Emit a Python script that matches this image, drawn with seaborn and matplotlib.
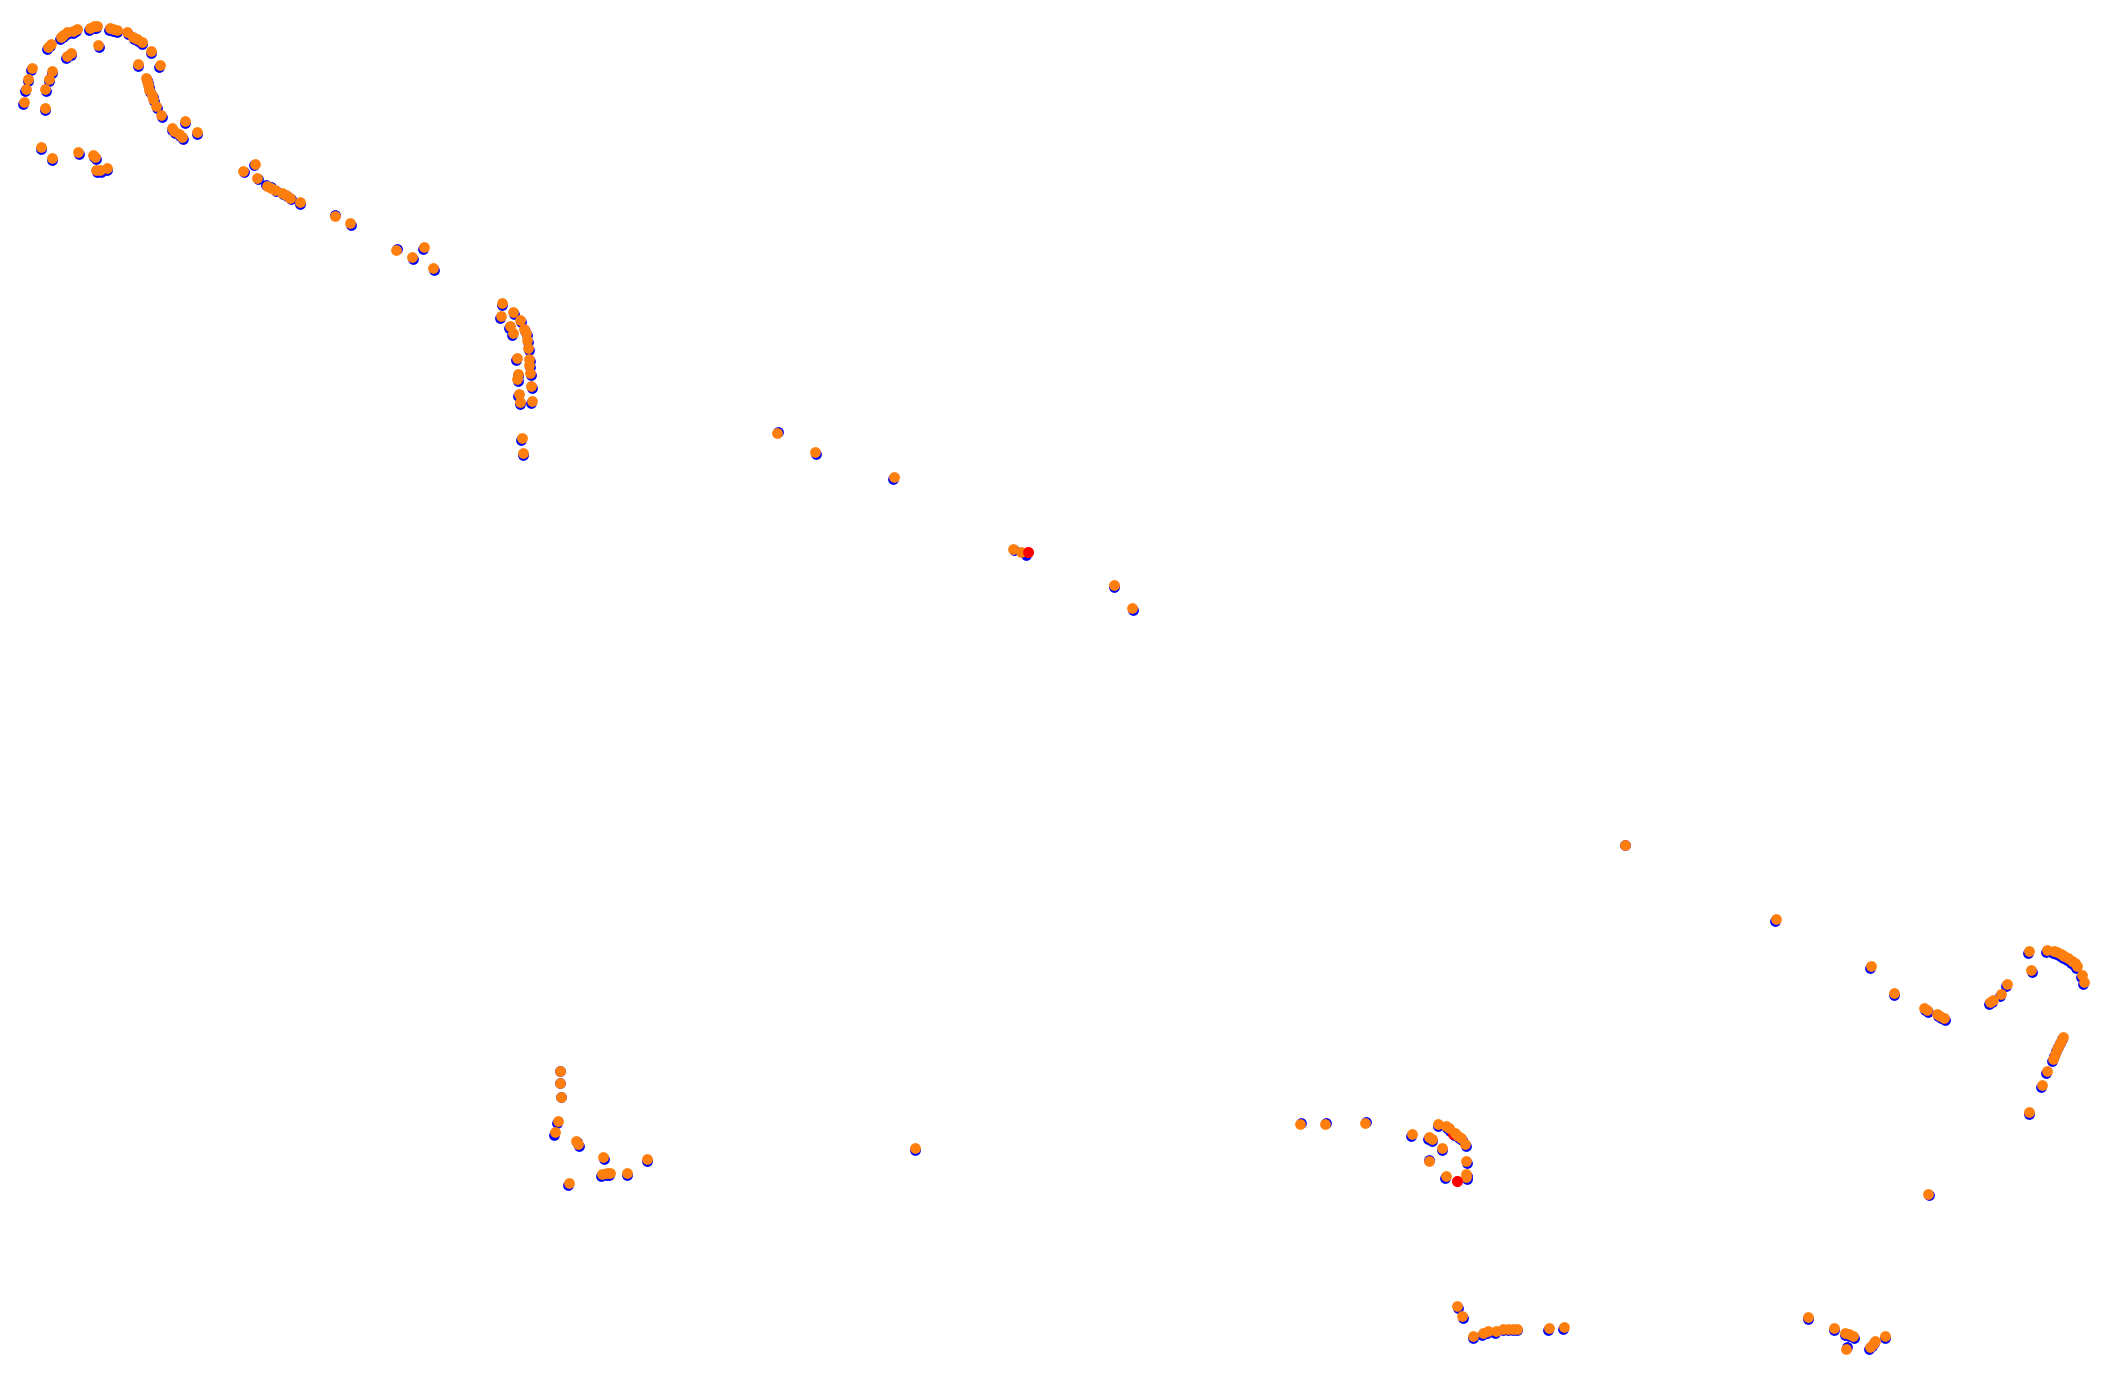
import matplotlib
matplotlib.use("Agg")
import matplotlib.pyplot as plt
import seaborn as sns
import pandas as pd

# Track points (pixel-like coordinates, y downward)
orange_x = [24, 26, 28, 32, 48, 51, 61, 63, 67, 73, 77, 90, 94, 97, 110, 113, 117, 127, 133, 137, 142, 151, 160, 138,
            146, 147, 148, 149, 152, 153, 156, 161, 172, 174, 179, 182, 185, 197,
            98, 67, 71, 52, 49, 45, 45, 41, 52, 78, 93, 95, 96, 100, 107,
            243, 255, 257, 267, 271, 275, 282, 286, 290, 300, 335, 350, 396, 412, 424, 433,
            502, 501, 513, 510, 513, 520, 524, 526, 527, 528, 529, 529, 530, 517, 518, 517, 531, 519, 520, 532, 522, 523,
            777, 815, 894,
            1013, 1021, 1114, 1132,
            1625, 1776, 1871, 1894, 1924, 1927, 1937, 1940, 1944, 1928,
            2029, 2047, 2054, 2057, 2061, 2064, 2068, 2072, 2075, 2077, 2082, 2084, 2031, 2007, 2001, 1993, 1990,
            2063, 2061, 2059, 2057, 2055, 2053, 2047, 2042, 2029,
            560, 560, 561, 558, 555, 576, 578, 603, 602, 607, 610, 627, 647, 569,
            915,
            1300, 1325, 1365, 1412, 1438, 1446, 1449, 1455, 1458, 1461, 1465, 1429, 1432, 1442, 1429, 1466, 1466, 1466, 1446,
            1457, 1462, 1473, 1483, 1488, 1496, 1503, 1508, 1513, 1517, 1549, 1564,
            1808, 1834, 1845, 1849, 1853, 1846, 1870, 1873, 1875, 1885]
orange_y = [102, 89, 79, 68, 47, 44, 37, 35, 32, 31, 29, 28, 26, 26, 28, 29, 30, 32, 37, 39, 42, 51, 65, 64,
            78, 81, 85, 90, 95, 99, 106, 115, 128, 131, 134, 137, 121, 132,
            45, 56, 53, 71, 79, 89, 108, 147, 158, 152, 155, 157, 170, 170, 168,
            171, 164, 178, 186, 188, 190, 193, 195, 198, 202, 216, 223, 250, 257, 247, 268,
            303, 316, 312, 326, 333, 320, 329, 333, 340, 348, 359, 365, 373, 358, 374, 379, 386, 394, 402, 401, 438, 453,
            433, 452, 477,
            549, 552, 585, 608,
            845, 919, 966, 993, 1008, 1010, 1014, 1016, 1018, 1194,
            951, 950, 951, 952, 954, 956, 958, 961, 963, 966, 975, 982, 970, 984, 994, 1000, 1002,
            1037, 1041, 1045, 1049, 1054, 1059, 1071, 1085, 1112,
            1071, 1083, 1097, 1121, 1132, 1141, 1144, 1157, 1174, 1173, 1173, 1173, 1159, 1183,
            1148,
            1124, 1124, 1123, 1134, 1124, 1126, 1128, 1133, 1136, 1138, 1144, 1137, 1139, 1148, 1161, 1161, 1174, 1177, 1176,
            1306, 1316, 1336, 1333, 1331, 1331, 1329, 1329, 1329, 1329, 1328, 1327,
            1317, 1328, 1333, 1334, 1336, 1349, 1347, 1344, 1341, 1336]

blue_x = [23, 25, 28, 31, 47, 50, 60, 63, 67, 73, 76, 89, 94, 96, 109, 113, 117, 128, 134, 138, 142, 151, 159, 138,
          147, 148, 149, 150, 153, 154, 157, 162, 172, 175, 180, 183, 185, 197,
          99, 66, 71, 52, 49, 46, 45, 41, 52, 79, 94, 96, 97, 101, 107,
          244, 254, 258, 266, 271, 276, 283, 287, 291, 300, 335, 351, 397, 413, 423, 434,
          502, 500, 514, 509, 512, 521, 525, 527, 528, 529, 530, 530, 531, 516, 518, 518, 532, 518, 520, 531, 521, 523,
          778, 816, 893,
          1014, 1026, 1114, 1133,
          1625, 1775, 1870, 1894, 1925, 1928, 1938, 1941, 1945, 1929,
          2028, 2046, 2053, 2056, 2060, 2063, 2067, 2071, 2074, 2076, 2081, 2083, 2032, 2006, 2000, 1992, 1989,
          2062, 2060, 2058, 2056, 2054, 2052, 2046, 2041, 2029,
          560, 560, 561, 557, 554, 577, 579, 604, 601, 606, 609, 627, 647, 568,
          915,
          1301, 1326, 1366, 1411, 1438, 1447, 1450, 1454, 1459, 1462, 1466, 1428, 1432, 1442, 1429, 1467, 1467, 1467, 1445,
          1458, 1463, 1473, 1482, 1487, 1495, 1503, 1508, 1513, 1517, 1548, 1563,
          1808, 1834, 1845, 1849, 1854, 1847, 1869, 1872, 1874, 1885]
blue_y = [104, 91, 81, 70, 49, 46, 39, 37, 34, 33, 31, 30, 28, 28, 30, 31, 32, 34, 39, 41, 44, 53, 67, 66,
          80, 83, 87, 92, 97, 101, 108, 117, 130, 133, 136, 139, 123, 134,
          47, 58, 55, 73, 81, 91, 110, 149, 160, 154, 157, 159, 172, 172, 170,
          172, 165, 179, 185, 187, 191, 194, 196, 199, 204, 215, 225, 249, 259, 249, 270,
          305, 318, 314, 328, 335, 322, 331, 335, 342, 350, 361, 367, 375, 360, 376, 381, 388, 396, 404, 403, 440, 455,
          432, 454, 479,
          550, 555, 587, 610,
          845, 921, 968, 995, 1010, 1012, 1016, 1018, 1020, 1195,
          953, 952, 953, 954, 956, 958, 960, 963, 965, 968, 977, 984, 972, 986, 996, 1002, 1004,
          1039, 1043, 1047, 1051, 1056, 1061, 1073, 1087, 1114,
          1071, 1083, 1097, 1123, 1135, 1142, 1146, 1159, 1176, 1175, 1175, 1175, 1161, 1185,
          1150,
          1123, 1123, 1122, 1136, 1126, 1128, 1131, 1135, 1138, 1140, 1146, 1139, 1141, 1150, 1160, 1163, 1176, 1179, 1178,
          1308, 1318, 1338, 1335, 1333, 1333, 1330, 1330, 1330, 1330, 1330, 1329,
          1319, 1330, 1335, 1336, 1338, 1347, 1349, 1346, 1343, 1338]

red_x = [1028, 1457, 1453]
red_y = [552, 1181, 1134]

W, H = 2113, 1381
fig = plt.figure(figsize=(W / 100, H / 100), dpi=100)
ax = fig.add_axes([0, 0, 1, 1])

df_b = pd.DataFrame({"x": blue_x, "y": blue_y})
df_o = pd.DataFrame({"x": orange_x, "y": orange_y})
df_r = pd.DataFrame({"x": red_x, "y": red_y})

sns.scatterplot(data=df_b, x="x", y="y", color="#0000ff", s=60, linewidth=0, ax=ax, legend=False)
sns.scatterplot(data=df_r, x="x", y="y", color="#ff0000", s=60, linewidth=0, ax=ax, legend=False)
sns.scatterplot(data=df_o, x="x", y="y", color="#ff7f0e", s=60, linewidth=0, ax=ax, legend=False)
sns.scatterplot(data=df_r.iloc[[0, 1]], x="x", y="y", color="#ff0000", s=60, linewidth=0, ax=ax, legend=False)

ax.set_xlim(0, W)
ax.set_ylim(H, 0)
ax.set_axis_off()
fig.savefig("out.png", dpi=100, facecolor="white")
